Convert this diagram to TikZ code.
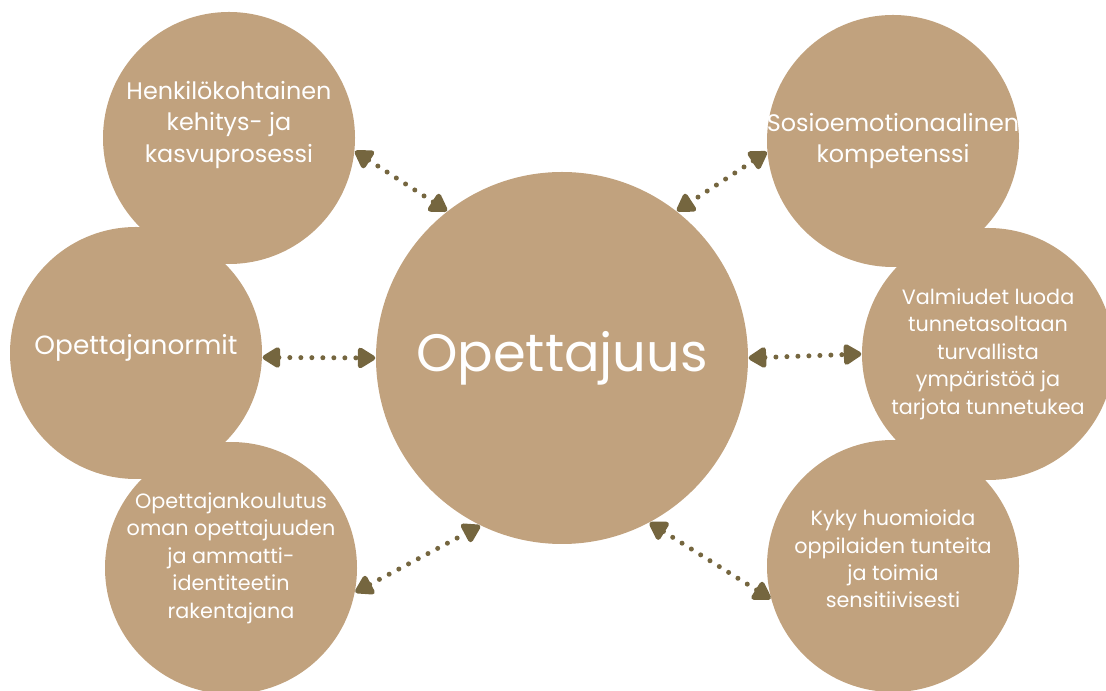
\documentclass[tikz,border=0pt]{standalone}
\usepackage{fontspec}
\setmainfont{Poppins}
\usetikzlibrary{arrows.meta}
\definecolor{sand}{HTML}{C1A27E}
\definecolor{olive}{HTML}{75663F}

\begin{document}
\begin{tikzpicture}[thick,
    main node/.style={circle,fill=sand,inner sep=0pt,minimum size=5.04cm},
    big node/.style={main node,minimum size=7.44cm},
    txt/.style={text=white,align=center,inner sep=0pt,font=\fontsize{13.6}{18}\selectfont},
    small txt/.style={txt,font=\fontsize{11.8}{15.6}\selectfont},
    link/.style={draw=olive,line width=0.1cm,line cap=round,
                 dash pattern=on 0pt off 0.22cm,
                 {Triangle[length=0.4cm,width=0.46cm,round]}-{Triangle[length=0.4cm,width=0.46cm,round]}}]

  \useasboundingbox (0,0) rectangle (22.12,13.8);
  \clip (0,0) rectangle (22.12,13.8);

  \node[big node,label={[txt,font=\fontsize{30}{34}\selectfont]center:Opettajuus}] (0) at (11.24,6.64) {};
  \node[main node,label={[txt,yshift=0.26cm]center:{Henkilökohtainen\\kehitys- ja\\kasvuprosessi}}] (1) at (4.58,11.04) {};
  \node[main node,label={[txt,font=\fontsize{15}{18}\selectfont,yshift=0.1cm]center:Opettajanormit}] (2) at (2.72,6.74) {};
  \node[main node,label={[small txt,yshift=0.2cm]center:{Opettajankoulutus\\oman opettajuuden\\ja ammatti-\\identiteetin\\rakentajana}}] (3) at (4.62,2.44) {};
  \node[main node,label={[txt]center:{Sosioemotionaalinen\\kompetenssi}}] (4) at (17.86,10.98) {};
  \node[main node,label={[small txt]center:{Valmiudet luoda\\tunnetasoltaan\\turvallista\\ympäristöä ja\\tarjota tunnetukea}}] (5) at (19.76,6.72) {};
  \node[main node,label={[small txt,yshift=0.14cm]center:{Kyky huomioida\\oppilaiden tunteita\\ja toimia\\sensitiivisesti}}] (6) at (17.86,2.48) {};

  \path[every edge/.style={link}]
    (1.354) edge (0.128)
    (2.358) edge (0.180)
    (3.349) edge (0.244)
    (4.185) edge (0.52)
    (0.0) edge (5.180)
    (0.298) edge (6.195);
\end{tikzpicture}
\end{document}
